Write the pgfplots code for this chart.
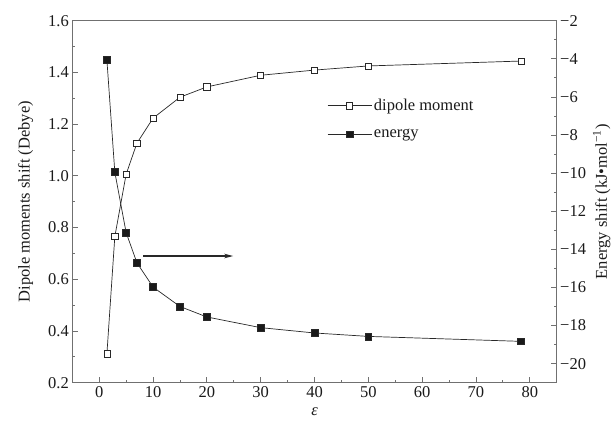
\documentclass[border=0pt]{standalone}
\usepackage{pgfplots}
\pgfplotsset{compat=1.18}
\usepackage{fontspec}
\setmainfont{Liberation Serif}
\usetikzlibrary{arrows.meta}

\definecolor{axisgray}{HTML}{707070}
\definecolor{linegray}{HTML}{282828}
\definecolor{txt}{HTML}{1a1a1a}

\pgfplotsset{
  common/.style={
    scale only axis,
    width=484.4pt, height=362pt,
    xmin=-5, xmax=85,
    axis line style={axisgray, line width=0.8pt},
    tick style={axisgray, line width=0.8pt},
    major tick length=6pt, minor tick length=3pt,
    tick align=inside,
    ticklabel style={font=\fontsize{16.5}{19}\selectfont, text=txt},
    label style={font=\fontsize{16.5}{19}\selectfont, text=txt},
    /pgf/number format/assume math mode=true,
  },
}

\begin{document}
\begin{tikzpicture}
  \begin{axis}[
    common,
    name=ax,
    xtick={0,10,...,80},
    minor x tick num=1,
    xtick pos=bottom,
    ymin=0.2, ymax=1.6,
    ytick={0.2,0.4,...,1.6},
    yticklabels={0.2,0.4,0.6,0.8,1.0,1.2,1.4,1.6},
    minor y tick num=1,
    ytick pos=left,
    xlabel={\textit{ε}},
    xlabel style={yshift=-3pt},
    ylabel={Dipole moments shift (Debye)},
    ylabel style={yshift=8pt},
  ]
    \addplot[linegray, line width=0.7pt, mark=square*, mark size=3.1pt,
             mark options={fill=white, draw=linegray, line width=0.6pt}]
      coordinates {
        (1.43,0.312) (2.9,0.765) (5,1.006) (7,1.126) (10,1.223) (15,1.304)
        (20,1.344) (30,1.389) (40,1.409) (50,1.425) (78.4,1.444)
      };
    \draw[-{Stealth[length=9pt,width=4.5pt]}, line width=1.4pt, linegray]
      (axis cs:8.2,0.69) -- (axis cs:24.9,0.69);
  \end{axis}

  \begin{axis}[
    common,
    axis x line=none,
    axis y line*=right,
    ymin=-21, ymax=-2,
    ytick={-20,-18,...,-2},
    yticklabels={−20,−18,−16,−14,−12,−10,−8,−6,−4,−2},
    minor y tick num=1,
    ylabel={Energy shift (kJ•mol\textsuperscript{−1})},
    legend style={draw=none, fill=none, at={(0.526,0.789)}, anchor=north west,
      font=\fontsize{16.5}{19}\selectfont, text=txt,
      row sep=13pt, inner sep=0pt},
    legend cell align=left,
    legend image code/.code={
      \draw[mark repeat=2, mark phase=2, #1]
        plot coordinates {(0pt,0pt) (22pt,0pt) (44pt,0pt)};
    },
  ]
    \addlegendimage{linegray, line width=0.7pt, mark=square*, mark size=3.1pt,
             mark options={fill=white, draw=linegray, line width=0.6pt}}
    \addlegendentry{dipole moment}
    \addplot[linegray, line width=0.7pt, mark=square*, mark size=3.4pt,
             mark options={fill=black!90, draw=linegray, line width=0.6pt}]
      coordinates {
        (1.43,-4.07) (2.9,-9.95) (5,-13.12) (7,-14.70) (10,-15.98) (15,-17.00)
        (20,-17.55) (30,-18.11) (40,-18.39) (50,-18.57) (78.4,-18.83)
      };
    \addlegendentry{energy}
  \end{axis}

  \pgfresetboundingbox
  \path ([xshift=-72.3pt, yshift=-38.3pt]ax.south west)
        rectangle ([xshift=59.3pt, yshift=20.7pt]ax.north east);
\end{tikzpicture}
\end{document}
